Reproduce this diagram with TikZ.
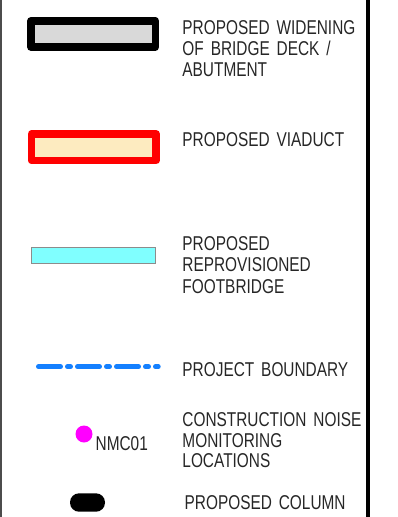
\documentclass[tikz,border=0pt]{standalone}
\usepackage{fontspec}
\setmainfont{Liberation Sans}
\definecolor{deckgray}{HTML}{D9D9D9}
\definecolor{cream}{HTML}{FDEBC0}
\definecolor{fbcyan}{HTML}{80FFFF}
\definecolor{bndblue}{HTML}{1480FF}
\definecolor{nmcmag}{HTML}{FF00FF}
\newcommand{\lblfont}{\fontsize{20}{21.5}\selectfont\spaceskip=0.45em\relax}
\begin{document}
\begin{tikzpicture}[x=1pt,y=-1pt,
  lbl/.style={anchor=base west,inner sep=0pt,xscale=0.77,
    font=\lblfont,text=black!85},
  legbox/.style={inner sep=0pt,line join=round,line width=7.6pt},
]
\useasboundingbox (0,0) rectangle (398,517);
% borders
\coordinate (lt) at (1,0); \coordinate (lb) at (1,517);
\coordinate (rt) at (368,0); \coordinate (rb) at (368,517);
\draw[line width=2pt,black!70] (lt) -- (lb);
\draw[line width=4pt,black] (rt) -- (rb);
% symbols
\node[legbox,draw=black,fill=deckgray,minimum width=124.3pt,minimum height=26.2pt] (deck) at (93.15,33.9) {};
\node[legbox,draw=red,fill=cream,minimum width=124.5pt,minimum height=26.7pt] (viad) at (93.75,147.15) {};
\node[inner sep=0pt,draw=black!45,line width=1pt,fill=fbcyan,minimum width=124pt,minimum height=16pt] (foot) at (93.5,255.8) {};
\coordinate (b1) at (38.35,366.7);
\coordinate (b2) at (158.35,366.7);
\draw[bndblue,line width=4.7pt,line cap=round,dash pattern=on 22.3pt off 6.7pt on 3.3pt off 6.7pt] (b1) -- (b2);
\node[circle,fill=nmcmag,inner sep=0pt,minimum size=17pt] (dot) at (84,434) {};
\node[fill=black,inner sep=0pt,minimum width=35pt,minimum height=18.4pt,rounded corners=9pt] (col) at (87.5,502.5) {};
% labels
\node[lbl] (t1a) at (182.3,34) {PROPOSED WIDENING};
\node[lbl] (t1b) at (182.3,55.5) {OF BRIDGE DECK /};
\node[lbl] (t1c) at (182.3,76.5) {ABUTMENT};
\node[lbl] (t2) at (182.3,146) {PROPOSED VIADUCT};
\node[lbl] (t3a) at (182.3,250) {PROPOSED};
\node[lbl] (t3b) at (182.3,271.5) {REPROVISIONED};
\node[lbl] (t3c) at (182.3,293) {FOOTBRIDGE};
\node[lbl] (t4) at (182.3,376.7) {PROJECT BOUNDARY};
\node[lbl] (t5a) at (182.3,426.7) {CONSTRUCTION NOISE};
\node[lbl] (t5b) at (182.3,447.2) {MONITORING};
\node[lbl] (t5c) at (182.3,467.7) {LOCATIONS};
\node[lbl] (nmc) at (95.5,450) {NMC01};
\node[lbl] (t6) at (184.5,509) {PROPOSED COLUMN};
\end{tikzpicture}
\end{document}
